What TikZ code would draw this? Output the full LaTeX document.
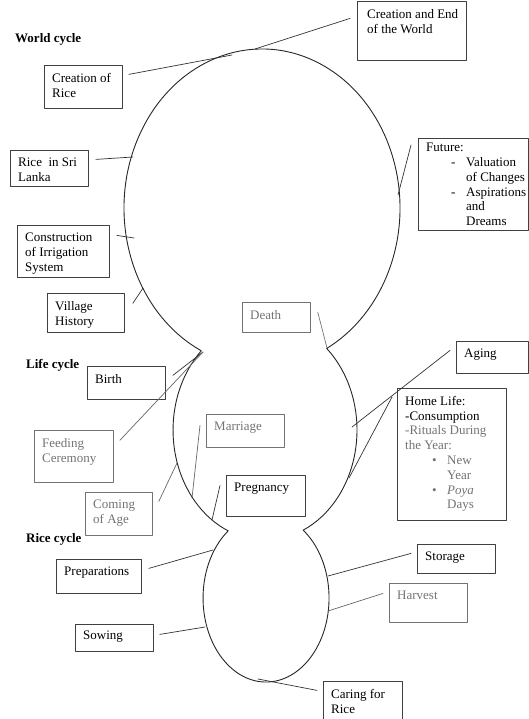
\documentclass[tikz,border=0pt]{standalone}
\usepackage{fontspec}
\setmainfont{Liberation Serif}
\usetikzlibrary{positioning}

\definecolor{txtgray}{gray}{0.45}
\newcommand\gtxt[1]{\textcolor{txtgray}{#1}}

\tikzset{
  outline/.style={draw=black!85,line width=0.9pt},
  link/.style={draw=black!80,line width=0.7pt},
  box/.style={draw=black!75,line width=0.8pt,anchor=north west,inner sep=0pt},
  gbox/.style={box,draw=black!55},
  txt/.style={anchor=north west,inner sep=0pt,align=left,xshift=8pt,yshift=-8pt,
    font=\fontsize{13}{14.8}\selectfont},
  gtx/.style={txt,text=txtgray},
  cyclbl/.style={anchor=base west,inner sep=0pt,font=\fontsize{13}{15}\selectfont\bfseries},
}

\begin{document}
\begin{tikzpicture}[x=1pt,y=-1pt,line cap=round,line join=round]
  \useasboundingbox (0,0) rectangle (529,719);

  % the three cycles as one outline
  \draw[outline] (262,208) ++(116.14:138 and 159)
    arc[start angle=116.14,end angle=422.05,x radius=138,y radius=159]
    arc[start angle=312.1,end angle=425.5,x radius=92,y radius=110]
    arc[start angle=306.1,end angle=593.1,x radius=63,y radius=84]
    arc[start angle=113.6,end angle=226.1,x radius=92,y radius=110];

  % cycle titles
  \node[cyclbl] (wcyc) at (15,43) {World cycle};
  \node[cyclbl] (lcyc) at (26,368) {Life cycle};
  \node[cyclbl] (rcyc) at (26,542) {Rice cycle};

  % world cycle
  \node[box,minimum width=78pt,minimum height=43pt,
    label={[txt]north west:{Creation of\\Rice}}] (crice) at (44,65) {};
  \node[box,minimum width=109pt,minimum height=59pt,
    label={[txt,xshift=2pt]north west:{Creation and End\\of the World}}] (cend) at (357,1) {};
  \node[box,minimum width=78pt,minimum height=36pt,
    label={[txt]north west:{Rice~ in Sri\\Lanka}}] (rsl) at (10,150) {};
  \node[box,minimum width=92pt,minimum height=52pt,
    label={[txt]north west:{Construction\\of Irrigation\\System}}] (irr) at (17,225) {};
  \node[box,minimum width=77pt,minimum height=39pt,
    label={[txt]north west:{Village\\History}}] (vhist) at (47,293) {};
  \node[box,minimum width=110pt,minimum height=92pt,
    label={[txt,yshift=3pt]north west:{Future:\\
      \hspace*{25pt}\makebox[15pt][l]{-}Valuation\\
      \hspace*{40pt}of Changes\\
      \hspace*{25pt}\makebox[15pt][l]{-}Aspirations\\
      \hspace*{40pt}and\\
      \hspace*{40pt}Dreams}}] (future) at (418,138) {};

  % life cycle
  \node[gbox,minimum width=68pt,minimum height=30pt,
    label={[gtx]north west:Death}] (death) at (242,302) {};
  \node[box,minimum width=72pt,minimum height=32pt,
    label={[txt]north west:Aging}] (aging) at (456,341) {};
  \node[box,minimum width=109pt,minimum height=132pt,
    label={[txt]north west:{Home Life:\\-Consumption\\\gtxt{-Rituals During}\\\gtxt{the Year:}\\
      \hspace*{27pt}\gtxt{\makebox[15pt][l]{\textbullet}New}\\
      \hspace*{42pt}\gtxt{Year}\\
      \hspace*{27pt}\gtxt{\makebox[15pt][l]{\textbullet}\textit{Poya}}\\
      \hspace*{42pt}\gtxt{Days}}}] (home) at (397,388) {};
  \node[box,minimum width=78pt,minimum height=33pt,
    label={[txt]north west:Birth}] (birth) at (87,366) {};
  \node[gbox,minimum width=79pt,minimum height=52pt,
    label={[gtx]north west:{Feeding\\Ceremony}}] (feed) at (34,430) {};
  \node[gbox,minimum width=67pt,minimum height=43pt,
    label={[gtx]north west:{Coming\\of Age}}] (coming) at (85,492) {};
  \node[gbox,minimum width=78pt,minimum height=33pt,
    label={[gtx]north west:Marriage}] (marr) at (206,414) {};
  \node[box,minimum width=79pt,minimum height=41pt,
    label={[txt]north west:Pregnancy}] (preg) at (226,475) {};

  % rice cycle
  \node[box,minimum width=85pt,minimum height=34pt,
    label={[txt]north west:Preparations}] (prep) at (56,559) {};
  \node[box,minimum width=78pt,minimum height=27pt,
    label={[txt,yshift=1pt]north west:Sowing}] (sow) at (75,624) {};
  \node[box,minimum width=78pt,minimum height=29pt,
    label={[txt]north west:Storage}] (store) at (417,544) {};
  \node[gbox,minimum width=78pt,minimum height=39pt,
    label={[gtx]north west:Harvest}] (harv) at (389,583) {};
  \node[box,minimum width=79pt,minimum height=38pt,
    label={[txt]north west:{Caring for\\Rice}}] (care) at (323,681) {};

  % points on the outline
  \coordinate (o-crice) at (232,55);
  \coordinate (o-cend) at (255,49);
  \coordinate (o-rsl) at (133,157);
  \coordinate (o-irr) at (134,238);
  \coordinate (o-vhist) at (143,288);
  \coordinate (o-future) at (398,195);
  \coordinate (o-death) at (327,348);
  \coordinate (o-aging) at (352,427);
  \coordinate (o-home) at (349,478);
  \coordinate (o-join) at (203,352);
  \coordinate (o-coming) at (177,463);
  \coordinate (o-marr) at (192,498);
  \coordinate (o-preg) at (212,520);
  \coordinate (o-prep) at (213,550);
  \coordinate (o-sow) at (205,627);
  \coordinate (o-store) at (328,576);
  \coordinate (o-harv) at (328,611);
  \coordinate (o-care) at (258,679);

  % connectors
  \draw[link] ([xshift=6pt,yshift=12.5pt]crice.east) -- (o-crice);
  \draw[link] ([xshift=-7pt,yshift=12.5pt]cend.west) -- (o-cend);
  \draw[link] ([xshift=7pt,yshift=9pt]rsl.east) -- (o-rsl);
  \draw[link] ([xshift=7pt,yshift=16pt]irr.east) -- (o-irr);
  \draw[link] ([xshift=8pt,yshift=9.5pt]vhist.east) -- (o-vhist);
  \draw[link] ([xshift=-7pt,yshift=-7pt]future.north west) -- (o-future);
  \draw[link,draw=black!55] ([xshift=7pt,yshift=5pt]death.east) -- (o-death);
  \draw[link] ([xshift=-6pt,yshift=7pt]aging.west) -- (o-aging);
  \draw[link] ([xshift=-5pt,yshift=-9pt]home.north west) -- (o-home);
  \draw[link] ([xshift=7pt,yshift=7.5pt]birth.east) -- (o-join);
  \draw[link,draw=black!60] ([xshift=6pt,yshift=16pt]feed.east) -- (o-join);
  \draw[link,draw=black!60] ([xshift=6pt,yshift=12.5pt]coming.east) -- (o-coming);
  \draw[link,draw=black!60] ([xshift=-6pt,yshift=5.5pt]marr.west) -- (o-marr);
  \draw[link] ([xshift=-6pt,yshift=10.5pt]preg.west) -- (o-preg);
  \draw[link] ([xshift=7pt,yshift=8pt]prep.east) -- (o-prep);
  \draw[link] ([xshift=6pt,yshift=3.5pt]sow.east) -- (o-sow);
  \draw[link] ([xshift=-6pt,yshift=5.5pt]store.west) -- (o-store);
  \draw[link,draw=black!60] ([xshift=-6pt,yshift=9.5pt]harv.west) -- (o-harv);
  \draw[link] ([xshift=-6pt,yshift=10pt]care.west) -- (o-care);
\end{tikzpicture}
\end{document}
